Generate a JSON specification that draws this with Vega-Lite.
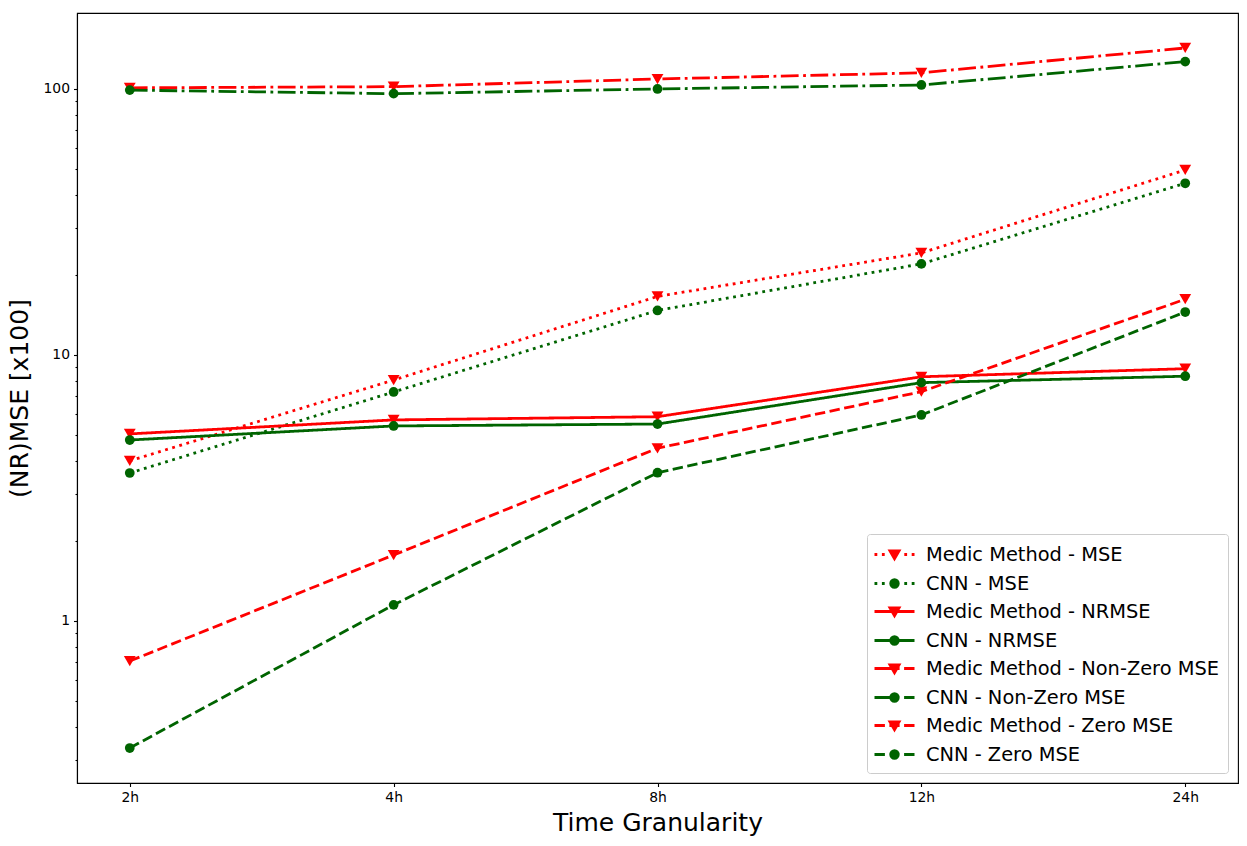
{
  "$schema": "https://vega.github.io/schema/vega-lite/v6.json",
  "width": 1161,
  "height": 770,
  "autosize": {"type": "none"},
  "padding": {"left": 77, "top": 13, "right": 9, "bottom": 63},
  "background": "white",
  "data": {
    "values": [
      {"t": "2h", "series": "Medic Method - MSE", "v": 4.0},
      {"t": "4h", "series": "Medic Method - MSE", "v": 8.05},
      {"t": "8h", "series": "Medic Method - MSE", "v": 16.6},
      {"t": "12h", "series": "Medic Method - MSE", "v": 24.2},
      {"t": "24h", "series": "Medic Method - MSE", "v": 49.6},
      {"t": "2h", "series": "CNN - MSE", "v": 3.6},
      {"t": "4h", "series": "CNN - MSE", "v": 7.26},
      {"t": "8h", "series": "CNN - MSE", "v": 14.7},
      {"t": "12h", "series": "CNN - MSE", "v": 22.0},
      {"t": "24h", "series": "CNN - MSE", "v": 44.2},
      {"t": "2h", "series": "Medic Method - NRMSE", "v": 5.05},
      {"t": "4h", "series": "Medic Method - NRMSE", "v": 5.7},
      {"t": "8h", "series": "Medic Method - NRMSE", "v": 5.86},
      {"t": "12h", "series": "Medic Method - NRMSE", "v": 8.28},
      {"t": "24h", "series": "Medic Method - NRMSE", "v": 8.88},
      {"t": "2h", "series": "CNN - NRMSE", "v": 4.79},
      {"t": "4h", "series": "CNN - NRMSE", "v": 5.41},
      {"t": "8h", "series": "CNN - NRMSE", "v": 5.5},
      {"t": "12h", "series": "CNN - NRMSE", "v": 7.87},
      {"t": "24h", "series": "CNN - NRMSE", "v": 8.32},
      {"t": "2h", "series": "Medic Method - Non-Zero MSE", "v": 101},
      {"t": "4h", "series": "Medic Method - Non-Zero MSE", "v": 102},
      {"t": "8h", "series": "Medic Method - Non-Zero MSE", "v": 109},
      {"t": "12h", "series": "Medic Method - Non-Zero MSE", "v": 115},
      {"t": "24h", "series": "Medic Method - Non-Zero MSE", "v": 142.6},
      {"t": "2h", "series": "CNN - Non-Zero MSE", "v": 99},
      {"t": "4h", "series": "CNN - Non-Zero MSE", "v": 96},
      {"t": "8h", "series": "CNN - Non-Zero MSE", "v": 100},
      {"t": "12h", "series": "CNN - Non-Zero MSE", "v": 103.5},
      {"t": "24h", "series": "CNN - Non-Zero MSE", "v": 126.7},
      {"t": "2h", "series": "Medic Method - Zero MSE", "v": 0.707},
      {"t": "4h", "series": "Medic Method - Zero MSE", "v": 1.77},
      {"t": "8h", "series": "Medic Method - Zero MSE", "v": 4.46},
      {"t": "12h", "series": "Medic Method - Zero MSE", "v": 7.28},
      {"t": "24h", "series": "Medic Method - Zero MSE", "v": 16.2},
      {"t": "2h", "series": "CNN - Zero MSE", "v": 0.333},
      {"t": "4h", "series": "CNN - Zero MSE", "v": 1.15},
      {"t": "8h", "series": "CNN - Zero MSE", "v": 3.61},
      {"t": "12h", "series": "CNN - Zero MSE", "v": 5.95},
      {"t": "24h", "series": "CNN - Zero MSE", "v": 14.5}
    ]
  },
  "encoding": {
    "x": {
      "field": "t",
      "type": "ordinal",
      "sort": ["2h", "4h", "8h", "12h", "24h"],
      "scale": {"type": "point", "padding": 0.2},
      "title": "Time Granularity",
      "axis": {"labelAngle": 0, "tickSize": 3.5, "labelPadding": 4, "titlePadding": 6}
    },
    "y": {
      "field": "v",
      "type": "quantitative",
      "scale": {"type": "log", "domain": [0.246, 193], "nice": false},
      "title": "(NR)MSE [x100]",
      "axis": {
        "values": [0.3, 0.4, 0.5, 0.6, 0.7, 0.8, 0.9, 1, 2, 3, 4, 5, 6, 7, 8, 9, 10, 20, 30, 40, 50, 60, 70, 80, 90, 100],
        "labelExpr": "indexof([1, 10, 100], datum.value) >= 0 ? format(datum.value, 'd') : ''",
        "labelOverlap": false,
        "tickSize": {"expr": "indexof([1, 10, 100], datum.value) >= 0 ? 3.5 : 2"},
        "labelPadding": 4,
        "titlePadding": 10
      }
    },
    "color": {
      "field": "series",
      "type": "nominal",
      "title": null,
      "legend": null
    }
  },
  "layer": [
    {
      "mark": {"type": "line", "strokeWidth": 2.8},
      "encoding": {
        "strokeDash": {
          "field": "series",
          "type": "nominal",
          "legend": null,
          "scale": {
            "domain": ["Medic Method - MSE", "CNN - MSE", "Medic Method - NRMSE", "CNN - NRMSE", "Medic Method - Non-Zero MSE", "CNN - Non-Zero MSE", "Medic Method - Zero MSE", "CNN - Zero MSE"],
            "range": [[2.8, 4.6], [2.8, 4.6], [1, 0], [1, 0], [17.8, 4.5, 2.8, 4.5], [17.8, 4.5, 2.8, 4.5], [10.4, 4.5], [10.4, 4.5]]
          }
        }
      }
    },
    {
      "transform": [{"filter": "indexof(datum.series, 'Medic') === 0"}],
      "mark": {"type": "point", "shape": "triangle-down", "filled": true, "opacity": 1, "size": 140}
    },
    {
      "transform": [{"filter": "indexof(datum.series, 'CNN') === 0"}],
      "mark": {"type": "point", "shape": "circle", "filled": true, "opacity": 1, "size": 95}
    },
    {
      "transform": [{"filter": "datum.v < 0"}],
      "mark": {"type": "point", "filled": true, "opacity": 1, "strokeWidth": 2.8},
      "encoding": {
        "color": {
          "field": "series",
          "type": "nominal",
          "title": null,
          "legend": {},
          "scale": {
            "domain": ["Medic Method - MSE", "CNN - MSE", "Medic Method - NRMSE", "CNN - NRMSE", "Medic Method - Non-Zero MSE", "CNN - Non-Zero MSE", "Medic Method - Zero MSE", "CNN - Zero MSE"],
            "range": ["#ff0000", "#006400", "#ff0000", "#006400", "#ff0000", "#006400", "#ff0000", "#006400"]
          }
        },
        "stroke": {
          "field": "series",
          "type": "nominal",
          "title": null,
          "legend": {},
          "scale": {
            "domain": ["Medic Method - MSE", "CNN - MSE", "Medic Method - NRMSE", "CNN - NRMSE", "Medic Method - Non-Zero MSE", "CNN - Non-Zero MSE", "Medic Method - Zero MSE", "CNN - Zero MSE"],
            "range": ["#ff0000", "#006400", "#ff0000", "#006400", "#ff0000", "#006400", "#ff0000", "#006400"]
          }
        },
        "shape": {
          "field": "series",
          "type": "nominal",
          "title": null,
          "legend": {},
          "scale": {
            "domain": ["Medic Method - MSE", "CNN - MSE", "Medic Method - NRMSE", "CNN - NRMSE", "Medic Method - Non-Zero MSE", "CNN - Non-Zero MSE", "Medic Method - Zero MSE", "CNN - Zero MSE"],
            "range": [
              "M-2,0L-1.72,0M-1.26,0L-0.98,0M0.98,0L1.26,0M1.72,0L2,0M-0.45,-0.35L0.45,-0.35L0,0.42Z",
              "M-2,0L-1.72,0M-1.26,0L-0.98,0M0.98,0L1.26,0M1.72,0L2,0M-0.38,0A0.38,0.38,0,1,0,0.38,0A0.38,0.38,0,1,0,-0.38,0Z",
              "M-2,0L2,0M-0.45,-0.35L0.45,-0.35L0,0.42Z",
              "M-2,0L2,0M-0.38,0A0.38,0.38,0,1,0,0.38,0A0.38,0.38,0,1,0,-0.38,0Z",
              "M-2,0L-0.22,0M0.23,0L0.51,0M0.96,0L2,0M-0.45,-0.35L0.45,-0.35L0,0.42Z",
              "M-2,0L-0.22,0M0.23,0L0.51,0M0.96,0L2,0M-0.38,0A0.38,0.38,0,1,0,0.38,0A0.38,0.38,0,1,0,-0.38,0Z",
              "M-2,0L-0.96,0M-0.51,0L0.51,0M0.96,0L2,0M-0.45,-0.35L0.45,-0.35L0,0.42Z",
              "M-2,0L-0.96,0M-0.51,0L0.51,0M0.96,0L2,0M-0.38,0A0.38,0.38,0,1,0,0.38,0A0.38,0.38,0,1,0,-0.38,0Z"
            ]
          }
        }
      }
    }
  ],
  "resolve": {"legend": {"color": "independent", "stroke": "independent", "shape": "independent"}},
  "config": {
    "font": "DejaVu Sans",
    "view": {"stroke": "black", "strokeWidth": 1.1},
    "axis": {
      "grid": false,
      "domainColor": "black",
      "domainWidth": 1.1,
      "tickColor": "black",
      "tickWidth": 1.1,
      "labelFont": "DejaVu Sans",
      "labelFontSize": 13.9,
      "labelColor": "black",
      "titleFont": "DejaVu Sans",
      "titleFontSize": 25,
      "titleFontWeight": "normal",
      "titleColor": "black"
    },
    "legend": {
      "orient": "bottom-right",
      "offset": 10,
      "labelFont": "DejaVu Sans",
      "labelFontSize": 19.4,
      "labelColor": "black",
      "labelLimit": 500,
      "symbolSize": 400,
      "symbolStrokeWidth": 2.8,
      "symbolOpacity": 1,
      "padding": 9,
      "strokeColor": "#cccccc",
      "fillColor": "rgba(255,255,255,0.8)",
      "cornerRadius": 3,
      "rowPadding": 7,
      "labelOffset": 20,
      "symbolOffset": 7
    }
  }
}
